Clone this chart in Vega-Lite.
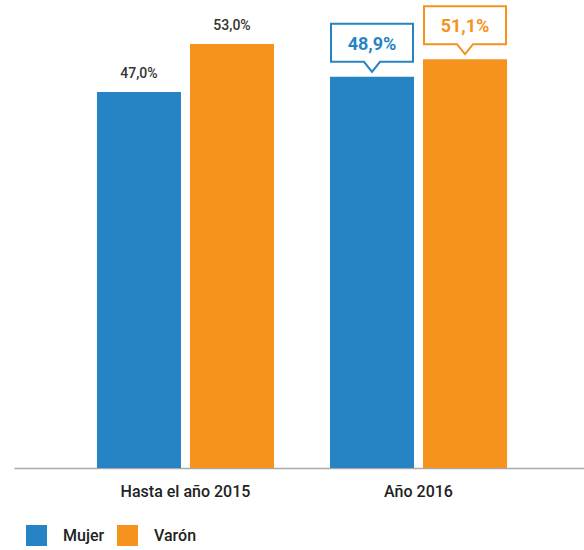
{
  "$schema": "https://vega.github.io/schema/vega-lite/v6.json",
  "width": 576,
  "height": 468,
  "padding": {"left": 14, "top": 0, "right": 0, "bottom": 0},
  "autosize": {"type": "pad"},
  "config": {"view": {"stroke": null}, "font": "Roboto"},
  "data": {
    "values": [
      {"periodo": "Hasta el año 2015", "sexo": "Mujer", "valor": 47.0, "etiqueta": "47,0%", "destacado": false},
      {"periodo": "Hasta el año 2015", "sexo": "Varón", "valor": 53.0, "etiqueta": "53,0%", "destacado": false},
      {"periodo": "Año 2016", "sexo": "Mujer", "valor": 48.9, "etiqueta": "48,9%", "destacado": true},
      {"periodo": "Año 2016", "sexo": "Varón", "valor": 51.1, "etiqueta": "51,1%", "destacado": true}
    ]
  },
  "encoding": {
    "x": {
      "field": "periodo",
      "type": "nominal",
      "sort": ["Hasta el año 2015", "Año 2016"],
      "scale": {"paddingInner": 0.2403, "paddingOuter": 0.356},
      "axis": {
        "title": null,
        "labelAngle": 0,
        "ticks": false,
        "domainColor": "#aaaaaa",
        "domainWidth": 1.5,
        "labelPadding": 15,
        "labelFontSize": 16,
        "labelFontWeight": 500,
        "labelColor": "#222222",
        "labelFont": "Roboto"
      }
    },
    "xOffset": {
      "field": "sexo",
      "type": "nominal",
      "sort": ["Mujer", "Varón"],
      "scale": {"paddingInner": 0.0968, "paddingOuter": 0}
    },
    "y": {
      "field": "valor",
      "type": "quantitative",
      "scale": {"domain": [0, 58.5], "nice": false, "zero": true},
      "axis": null
    }
  },
  "layer": [
    {
      "mark": {"type": "bar"},
      "encoding": {
        "color": {
          "field": "sexo",
          "type": "nominal",
          "scale": {"domain": ["Mujer", "Varón"], "range": ["#2684C5", "#F6921E"]},
          "legend": {
            "title": null,
            "orient": "none",
            "legendX": 12,
            "legendY": 525,
            "direction": "horizontal",
            "symbolType": "square",
            "symbolSize": 441,
            "symbolStrokeWidth": 0,
            "symbolOpacity": 1,
            "labelFontSize": 16,
            "labelFontWeight": 500,
            "labelColor": "#222222",
            "labelFont": "Roboto",
            "labelOffset": 16,
            "columnPadding": 12,
            "padding": 0
          }
        }
      }
    },
    {
      "transform": [{"filter": "!datum.destacado"}],
      "mark": {"type": "text", "baseline": "alphabetic", "dy": -14, "fontSize": 14, "fontWeight": 500, "fill": "#333333"},
      "encoding": {"text": {"field": "etiqueta"}}
    },
    {
      "transform": [{"filter": "datum.destacado"}],
      "mark": {
        "type": "point",
        "shape": "M -1 -1.293 L 1 -1.293 L 1 -0.366 L 0.195 -0.366 L 0 -0.122 L -0.195 -0.366 L -1 -0.366 Z",
        "size": 6724,
        "filled": true,
        "fill": "white",
        "strokeWidth": 2,
        "opacity": 1
      },
      "encoding": {
        "stroke": {
          "field": "sexo",
          "type": "nominal",
          "scale": {"domain": ["Mujer", "Varón"], "range": ["#2684C5", "#F6921E"]},
          "legend": null
        }
      }
    },
    {
      "transform": [{"filter": "datum.destacado"}],
      "mark": {"type": "text", "baseline": "middle", "dy": -32, "fontSize": 18, "fontWeight": "bold"},
      "encoding": {
        "text": {"field": "etiqueta"},
        "color": {"field": "sexo", "type": "nominal"}
      }
    }
  ]
}
